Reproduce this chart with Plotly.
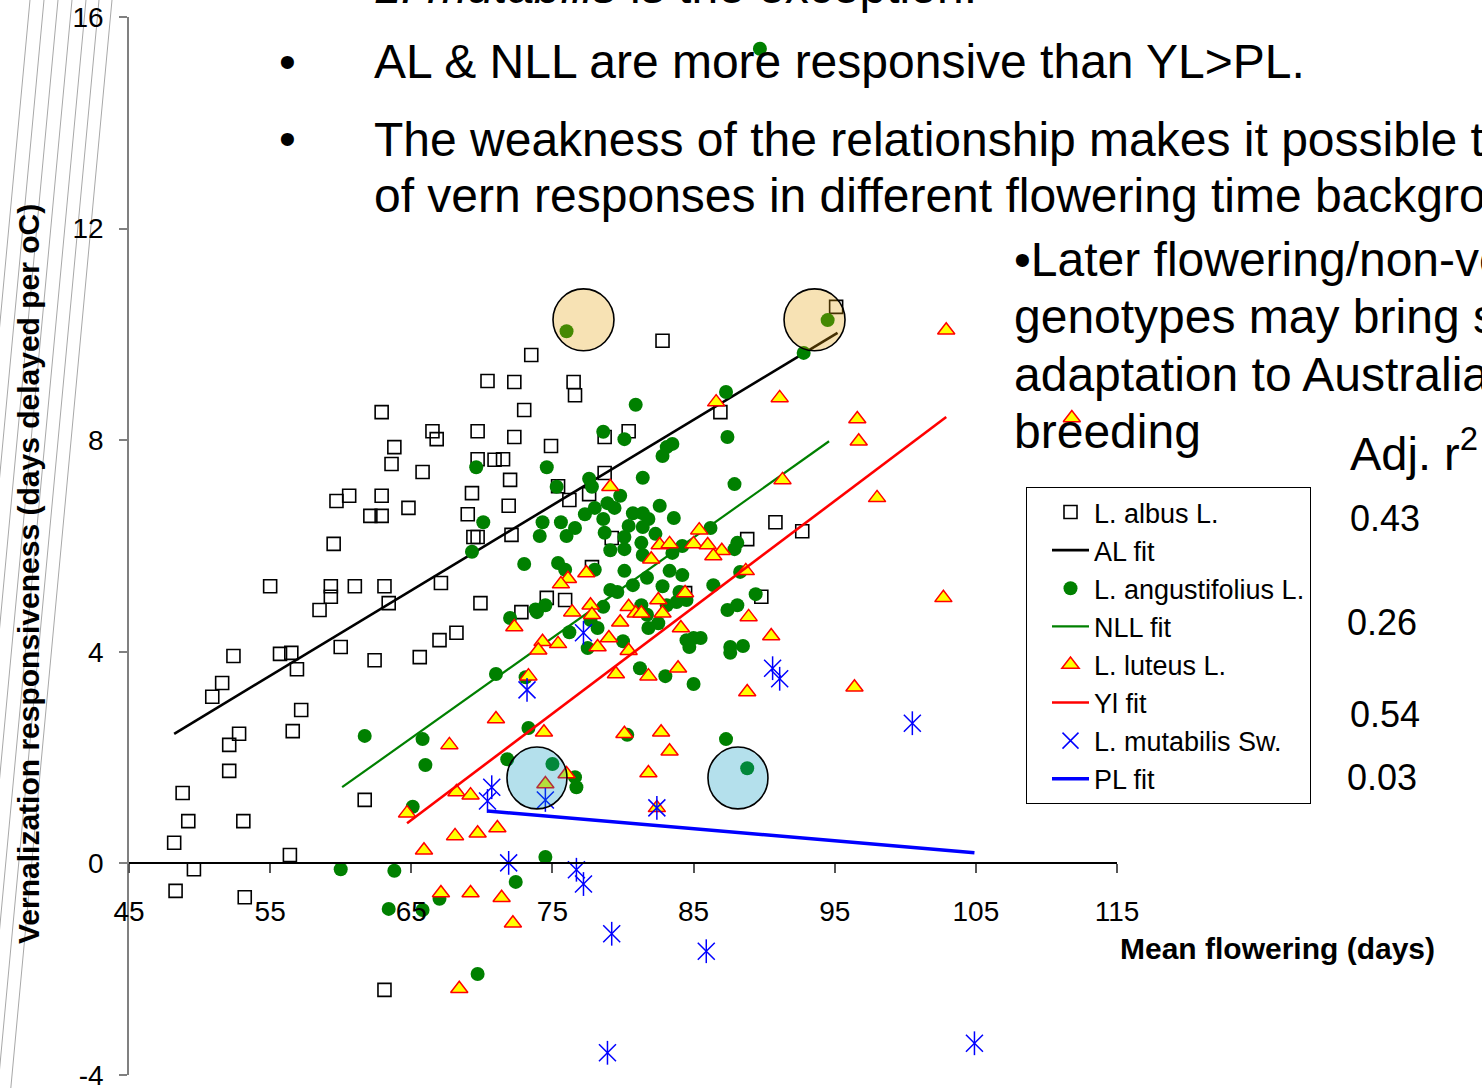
import plotly.graph_objects as go

FONT = "Arial, 'Liberation Sans', Helvetica, sans-serif"

# ---------------- data ----------------
albus = [(73.5, 9.61), (70.4, 9.12), (72.3, 9.10), (62.9, 8.53), (73.0, 8.57), (66.5, 8.17), (66.8, 8.02),
         (69.7, 8.17), (72.3, 8.06), (63.8, 7.87), (63.6, 7.55), (65.8, 7.40), (69.7, 7.64), (70.9, 7.63),
         (71.5, 7.64), (72.0, 7.25), (59.7, 6.85), (60.6, 6.95), (62.9, 6.95), (62.1, 6.57), (62.9, 6.57),
         (64.8, 6.72), (69.3, 7.00), (69.0, 6.60), (71.9, 6.76), (59.5, 6.04), (69.4, 6.17), (69.7, 6.17),
         (72.1, 6.21), (55.0, 5.24), (59.3, 5.24), (61.0, 5.24), (63.1, 5.24), (67.1, 5.30), (59.3, 5.04),
         (63.4, 4.92), (69.9, 4.92), (58.5, 4.79), (72.8, 4.75), (52.4, 3.92), (51.6, 3.41), (50.9, 3.15),
         (55.7, 3.96), (56.5, 3.98), (56.9, 3.67), (60.0, 4.09), (62.4, 3.84), (65.6, 3.90), (67.0, 4.22),
         (68.2, 4.36), (57.2, 2.90), (56.6, 2.50), (52.8, 2.45), (52.1, 2.24), (52.1, 1.75), (48.8, 1.33),
         (61.7, 1.20), (49.2, 0.80), (53.1, 0.80), (48.2, 0.39), (56.4, 0.16), (49.6, -0.11), (48.3, -0.52),
         (53.2, -0.64), (63.1, -2.39), (95.1, 10.52), (82.8, 9.88), (76.5, 9.10), (76.6, 8.85), (80.4, 8.17),
         (78.7, 8.06), (74.9, 7.89), (86.9, 8.53), (78.7, 7.38), (75.4, 7.13), (76.2, 6.87), (77.6, 6.98),
         (90.8, 6.45), (92.7, 6.28), (88.8, 6.13), (79.2, 6.15), (77.8, 5.60), (74.6, 5.02), (75.9, 4.98),
         (89.8, 5.04), (84.4, 5.11)]

angustifolius = [(89.7, 15.40), (76.0, 10.06), (94.5, 10.27), (92.8, 9.65), (87.3, 8.91), (80.9, 8.67),
                 (78.6, 8.16), (80.1, 8.02), (87.4, 8.06), (83.5, 7.93), (83.1, 7.87), (82.8, 7.70),
                 (69.6, 7.49), (74.6, 7.49), (77.6, 7.27), (81.4, 7.29), (75.3, 7.12), (77.8, 7.12),
                 (87.9, 7.17), (79.8, 6.95), (78.9, 6.81), (78.0, 6.72), (79.4, 6.72), (77.3, 6.60),
                 (78.6, 6.51), (80.7, 6.62), (81.4, 6.62), (81.8, 6.51), (82.6, 6.76), (83.6, 6.53),
                 (70.1, 6.45), (74.3, 6.45), (75.6, 6.45), (76.6, 6.34), (74.1, 6.19), (76.0, 6.19),
                 (80.4, 6.38), (81.4, 6.36), (78.7, 6.25), (80.1, 6.17), (82.3, 6.23), (86.2, 6.34),
                 (69.3, 5.89), (73.0, 5.66), (79.1, 5.92), (80.1, 5.94), (81.3, 6.06), (81.4, 5.83),
                 (83.5, 5.87), (84.2, 6.00), (88.1, 6.06), (87.9, 5.94), (75.4, 5.68), (75.9, 5.55),
                 (78.0, 5.55), (80.1, 5.53), (81.7, 5.40), (83.3, 5.53), (84.2, 5.45), (88.3, 5.51),
                 (80.7, 5.26), (82.8, 5.24), (86.4, 5.26), (79.1, 5.17), (79.6, 5.13), (84.0, 5.13),
                 (89.4, 5.09), (74.5, 4.88), (73.9, 4.75), (78.6, 4.85), (81.3, 4.88), (81.7, 4.70),
                 (83.1, 4.88), (83.8, 4.94), (84.5, 4.98), (87.4, 4.79), (88.1, 4.88), (72.0, 4.64),
                 (73.8, 4.80), (77.7, 4.60), (76.2, 4.37), (78.2, 4.45), (81.8, 4.45), (82.5, 4.54),
                 (80.0, 4.20), (77.5, 4.07), (84.5, 4.22), (85.0, 4.26), (85.5, 4.26), (84.7, 4.09),
                 (87.6, 4.09), (88.5, 4.11), (87.6, 3.98), (81.2, 3.69), (83.0, 3.54), (85.0, 3.39),
                 (71.0, 3.58), (73.1, 3.52), (61.7, 2.41), (65.8, 2.35), (66.0, 1.86), (73.3, 2.56),
                 (71.8, 1.97), (80.3, 2.43), (87.3, 2.35), (75.0, 1.88), (76.6, 1.63), (76.7, 1.44),
                 (88.8, 1.80), (65.1, 1.07), (74.5, 0.12), (60.0, -0.11), (63.8, -0.14), (72.4, -0.35),
                 (63.4, -0.86), (65.8, -0.88), (67.0, -0.67), (69.7, -2.09)]

luteus = [(102.9, 10.08), (86.6, 8.72), (91.1, 8.80), (96.6, 8.40), (96.7, 7.98), (91.3, 7.25), (98.0, 6.91),
          (79.1, 7.12), (85.4, 6.30), (82.6, 6.02), (83.3, 6.04), (85.0, 6.04), (86.0, 6.02), (87.0, 5.91),
          (86.4, 5.81), (82.0, 5.75), (77.4, 5.49), (76.1, 5.38), (75.6, 5.28), (88.7, 5.53), (84.4, 5.11),
          (102.7, 5.02), (82.5, 4.98), (76.4, 4.75), (77.7, 4.88), (77.8, 4.70), (80.4, 4.85), (80.9, 4.73),
          (81.3, 4.73), (82.8, 4.73), (79.8, 4.56), (88.9, 4.66), (84.1, 4.45), (79.0, 4.26), (74.3, 4.19),
          (74.0, 4.03), (75.4, 4.15), (78.2, 4.09), (80.4, 4.02), (90.5, 4.30), (73.3, 3.54), (79.5, 3.58),
          (81.8, 3.54), (83.9, 3.69), (88.8, 3.24), (96.4, 3.33), (74.4, 2.48), (80.1, 2.45), (82.7, 2.48),
          (83.3, 2.12), (76.0, 1.69), (74.5, 1.50), (81.8, 1.71), (82.4, 1.05), (72.3, 4.47), (71.0, 2.73),
          (67.7, 2.24), (68.2, 1.35), (69.2, 1.29), (64.7, 0.95), (68.1, 0.52), (69.7, 0.57), (71.1, 0.67),
          (65.9, 0.25), (67.1, -0.56), (69.2, -0.56), (71.4, -0.65), (72.2, -1.13), (68.4, -2.37),
          (111.8, 8.42)]

mutabilis = [(77.2, 4.36), (73.2, 3.28), (90.6, 3.69), (91.1, 3.49), (100.5, 2.65), (70.7, 1.44),
             (70.4, 1.18), (74.5, 1.20), (82.4, 1.05), (71.9, 0.01), (76.7, -0.12), (77.2, -0.39),
             (79.2, -1.33), (85.9, -1.66), (78.9, -3.58), (104.9, -3.40)]

al_fit_x, al_fit_y = [48.2, 95.2], [2.45, 10.03]
nll_fit_x, nll_fit_y = [60.1, 94.6], [1.44, 7.98]
yl_fit_x, yl_fit_y = [64.7, 102.9], [0.76, 8.44]
pl_fit_x, pl_fit_y = [70.4, 104.9], [0.99, 0.20]

x_ticks = [45, 55, 65, 75, 85, 95, 105, 115]
y_ticks = [-4, 0, 4, 8, 12, 16]
y_tick_text = ["-4", "0", "4", "8", "12", "16"]
r2_labels = ["0.43", "0.26", "0.54", "0.03"]

# ---------------- geometry helpers (layout only) ----------------
W, H = 1482, 1088
ML, MR, MT, MB = 129, 365, 17, 13
PW, PH = W - ML - MR, H - MT - MB


def px(x):
    return (x - ML) / PW


def py(y):
    return (H - MB - y) / PH


def xs(pts):
    return [p[0] for p in pts]


def ys(pts):
    return [p[1] for p in pts]


fig = go.Figure()

fig.add_trace(go.Scatter(x=xs(albus), y=ys(albus), mode="markers", name="L. albus L.",
                         marker=dict(symbol="square-open", size=13, color="black", line=dict(width=1.6))))
fig.add_trace(go.Scatter(x=al_fit_x, y=al_fit_y, mode="lines", name="AL fit",
                         line=dict(color="black", width=2.6)))
fig.add_trace(go.Scatter(x=xs(angustifolius), y=ys(angustifolius), mode="markers", name="L. angustifolius L.",
                         marker=dict(symbol="circle", size=14, color="#008000", line=dict(width=0))))
fig.add_trace(go.Scatter(x=nll_fit_x, y=nll_fit_y, mode="lines", name="NLL fit",
                         line=dict(color="#008000", width=2.2)))
fig.add_trace(go.Scatter(x=xs(luteus), y=ys(luteus), mode="markers", name="L. luteus L.",
                         marker=dict(symbol="triangle-up", size=15, color="#FFFF00",
                                     line=dict(color="#FF0000", width=1.5))))
fig.add_trace(go.Scatter(x=yl_fit_x, y=yl_fit_y, mode="lines", name="Yl fit",
                         line=dict(color="#FF0000", width=2.6)))
fig.add_trace(go.Scatter(x=xs(mutabilis), y=ys(mutabilis), mode="markers", name="L. mutabilis Sw.",
                         legendgroup="pl",
                         marker=dict(symbol="x-thin-open", size=17, color="#0000FF",
                                     line=dict(color="#0000FF", width=1.5))))
fig.add_trace(go.Scatter(x=xs(mutabilis), y=ys(mutabilis), mode="markers", name="L. mutabilis Sw.",
                         legendgroup="pl", showlegend=False, hoverinfo="skip",
                         marker=dict(symbol="line-ns-open", size=17, color="#0000FF",
                                     line=dict(color="#0000FF", width=1.5))))
fig.add_trace(go.Scatter(x=pl_fit_x, y=pl_fit_y, mode="lines", name="PL fit",
                         line=dict(color="#0000FF", width=3.5)))

# ---------------- shapes ----------------
shapes = []
# slanted decorative slide lines at the left
for xt in [30, 44, 58, 72, 86, 99, 112]:
    shapes.append(dict(type="line", xref="paper", yref="paper",
                       x0=px(xt + 0.093 * 5), y0=py(-5), x1=px(xt - 0.093 * 1095), y1=py(1095),
                       line=dict(color="#a8a8a8", width=1), layer="below"))
# highlight circles
for (x0, x1, y0, y1) in [(75.04, 79.36, 9.69, 10.86), (91.41, 95.73, 9.69, 10.86)]:
    shapes.append(dict(type="circle", xref="x", yref="y", x0=x0, x1=x1, y0=y0, y1=y1,
                       fillcolor="rgba(228,158,5,0.3)", line=dict(color="black", width=1.6), layer="above"))
for (x0, x1, y0, y1) in [(71.78, 76.03, 1.03, 2.20), (86.02, 90.27, 1.03, 2.20)]:
    shapes.append(dict(type="circle", xref="x", yref="y", x0=x0, x1=x1, y0=y0, y1=y1,
                       fillcolor="rgba(5,152,192,0.3)", line=dict(color="black", width=1.6), layer="above"))

# ---------------- annotations ----------------
ann = []


def text(t, xp, yp, size, anchor="left", **kw):
    d = dict(text=t, x=px(xp), y=py(yp), xref="paper", yref="paper", showarrow=False,
             xanchor=anchor, yanchor="middle", font=dict(family=FONT, size=size, color="black"))
    d.update(kw)
    ann.append(d)


text("<i>L. mutabilis</i> is the exception.", 372, -14, 48)
text("•", 287, 62, 48, anchor="center")
text("AL &amp; NLL are more responsive than YL&gt;PL.", 372, 62, 48)
text("•", 287, 138, 48, anchor="center")
text("The weakness of the relationship makes it possible to select", 372, 139, 48)
text("of vern responses in different flowering time backgrounds.", 372, 196, 48)
text("•Later flowering/non-vernalization-requiring", 1012, 259.5, 48)
text("genotypes may bring specific", 1012, 316, 48)
text("adaptation to Australian", 1012, 374.5, 48)
text("breeding", 1012, 431.5, 48)
text("Adj. r<sup>2</sup>", 1348, 450, 47)
for lab, xp, yp in zip(r2_labels, [1348, 1345, 1348, 1345], [518.5, 623, 714, 777.6]):
    text(lab, xp, yp, 36)
text("<b>Mean flowering (days)</b>", 1118, 948, 30)
text("<b>Vernalization responsiveness (days delayed per oC)</b>", 28, 574, 30, anchor="center",
     textangle=-90)

fig.update_layout(
    width=W, height=H,
    margin=dict(l=ML, r=MR, t=MT, b=MB, autoexpand=False),
    paper_bgcolor="white", plot_bgcolor="rgba(0,0,0,0)",
    font=dict(family=FONT, color="black"),
    showlegend=True,
    legend=dict(x=px(1026), xanchor="left", y=py(487), yanchor="top",
                bordercolor="black", borderwidth=1, bgcolor="white",
                font=dict(family=FONT, size=27, color="black"), indentation=20, itemwidth=37,
                entrywidth=226, entrywidthmode="pixels",
                traceorder="normal"),
    xaxis=dict(range=[45, 115], tickvals=x_ticks, anchor="free", position=py(863.4),
               showline=True, linecolor="black", linewidth=1.5, ticks="outside", ticklen=9,
               tickcolor="#555555", tickwidth=1.5, showgrid=False, zeroline=False,
               tickfont=dict(family=FONT, size=28, color="black"), ticklabelstandoff=14,
               ticklabeloverflow="allow"),
    yaxis=dict(range=[-4, 16], tickvals=y_ticks, ticktext=y_tick_text, showline=True,
               linecolor="#808080", linewidth=1.5,
               ticks="outside", ticklen=8, tickcolor="#808080", tickwidth=1.5, showgrid=False,
               zeroline=False, tickfont=dict(family=FONT, size=28, color="black"), ticklabelstandoff=10,
               ticklabeloverflow="allow"),
    shapes=shapes,
    annotations=ann,
)

fig.write_html("out.html", config={"displayModeBar": False},
               post_script="document.body.style.margin='0';")
